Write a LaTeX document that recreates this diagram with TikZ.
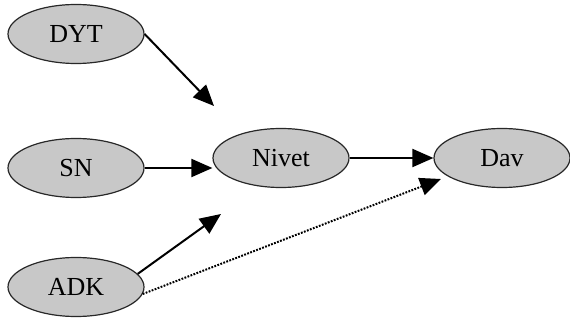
\documentclass[tikz,border=0pt]{standalone}
\usepackage{fontspec}
\setmainfont{Liberation Serif}
\usetikzlibrary{shapes.geometric,arrows.meta}
\definecolor{nodegray}{RGB}{200,200,200}
\definecolor{edgegray}{RGB}{40,40,40}
\tikzset{
  var/.style={ellipse, draw=edgegray, line width=1.2pt, fill=nodegray, minimum width=136pt, minimum height=59pt, inner sep=0pt, font=\fontsize{26}{28}\selectfont},
  arr/.style={line width=2pt, -{Triangle[length=21pt,width=18pt]}},
  dotarr/.style={arr, dash pattern=on 1.8pt off 1.4pt}
}
\begin{document}
\begin{tikzpicture}[x=1pt,y=-1pt]
\useasboundingbox (0,0) rectangle (570,320);
\node[var] (DYT) at (76,34) {DYT};
\node[var] (SN) at (76,168) {SN};
\node[var] (ADK) at (76,287) {ADK};
\node[var] (Nivet) at (281,158) {Nivet};
\node[var] (Dav) at (502,158) {Dav};
\coordinate (c1) at (214,106);
\coordinate (c2) at (221,214);
\coordinate (c3) at (441,179);
\draw[arr] (DYT.east) -- (c1);
\draw[arr] (SN.east) -- (SN.east -| Nivet.west);
\draw[arr] (ADK.12) -- (c2);
\draw[dotarr] (ADK.-6) -- (c3);
\draw[arr] (Nivet.east) -- (Dav.west);
\end{tikzpicture}
\end{document}
